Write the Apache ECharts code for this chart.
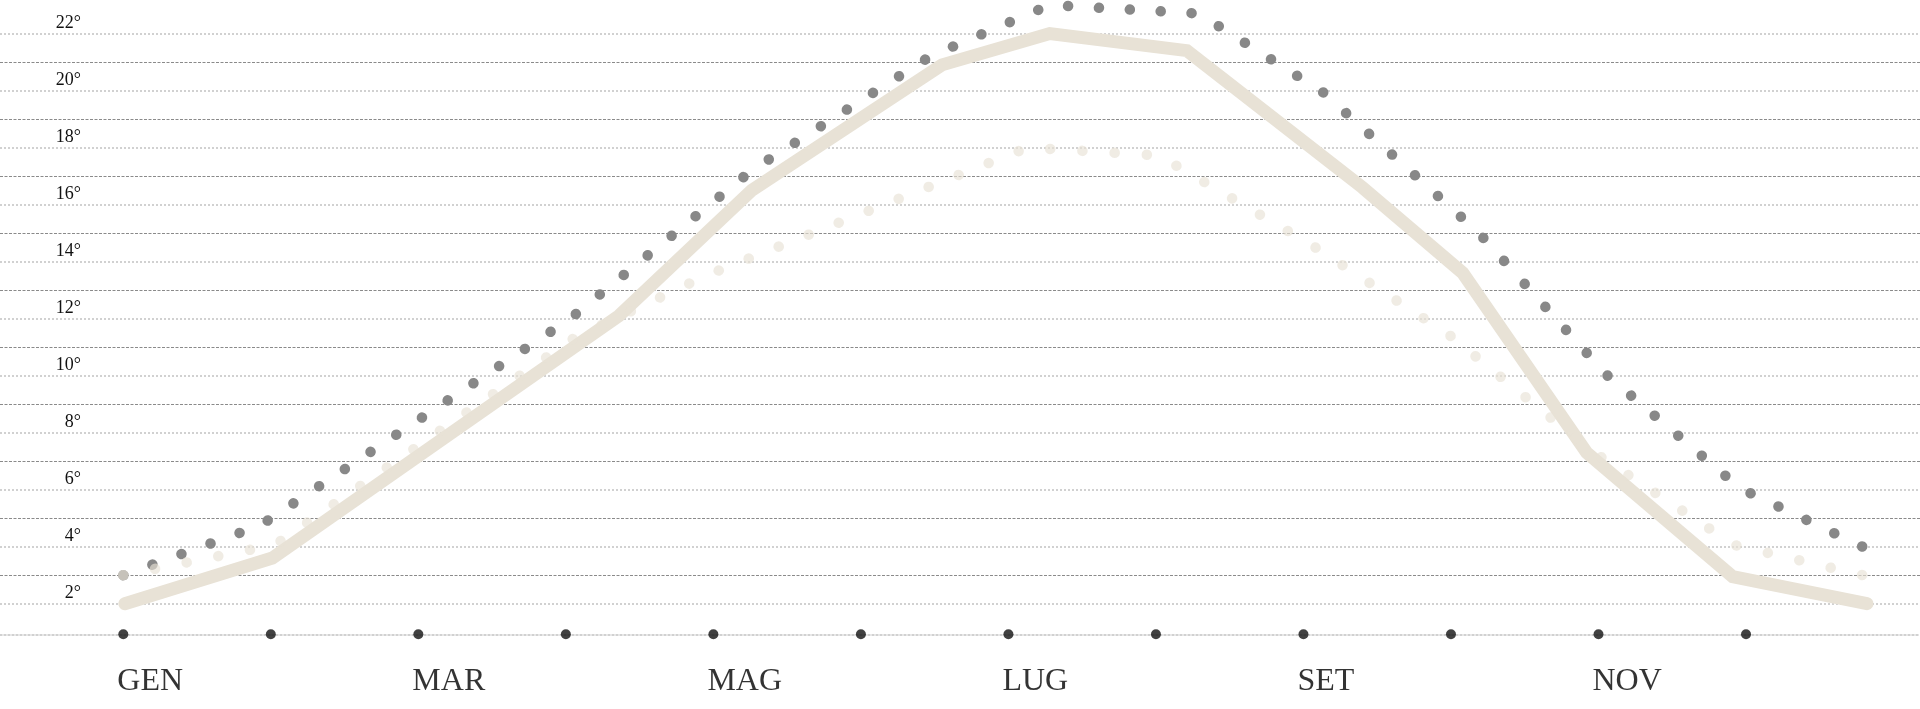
<!DOCTYPE html>
<html>
<head>
<meta charset="utf-8">
<style>
  html, body { margin: 0; padding: 0; background: #ffffff; }
  #chart { width: 1920px; height: 709px; }
</style>
<script src="https://cdn.jsdelivr.net/npm/echarts@6/dist/echarts.min.js"></script>
</head>
<body>
<div id="chart"></div>
<script>
// ---- data (month units on x: GEN = 0 ... DIC = 11; temperatures in °C) ----
const months = ['GEN', 'FEB', 'MAR', 'APR', 'MAG', 'GIU', 'LUG', 'AGO', 'SET', 'OTT', 'NOV', 'DIC'];
const labelledMonths = ['GEN', 'MAR', 'MAG', 'LUG', 'SET', 'NOV'];

// thick beige line
const meanX = [0.01, 1.01, 3.36, 4.26, 5.55, 6.28, 7.21, 8.40, 9.08, 9.92, 10.91, 11.82];
const meanY = [2.0, 3.6, 12.1, 16.5, 20.9, 22.0, 21.4, 16.6, 13.6, 7.3, 2.95, 2.0];

// dark grey dotted line
const maxX = [0, 0.93, 3.03, 4.26, 5.47, 6.28, 7.29, 8.13, 9.19, 10.05, 10.96, 11.79];
const maxY = [3.0, 4.75, 12.0, 17.2, 21.2, 23.0, 22.7, 19.95, 15.0, 10.05, 6.05, 4.0];

// light beige dotted line
const minX = [0, 1.03, 3.06, 3.96, 6.13, 7.02, 8.05, 8.99, 9.94, 10.92, 11.79];
const minY = [3.0, 4.07, 11.33, 13.53, 18.0, 17.72, 14.6, 11.42, 7.41, 4.06, 3.0];

// y tick values
const evenTicks = { min: 0, max: 22, step: 2 };
const oddTicks = { min: 1, max: 21, step: 2 };

// ---- layout ----
const W = 1920, H = 709;
const xLeftPx = 123.3, monthPx = 147.52;
const xMin = -xLeftPx / monthPx;
const xMax = (W - xLeftPx) / monthPx;
const yTopPx = 33.5, unitPx = 28.51;       // px of 22° line, px per degree
const py = v => yTopPx + (22 - v) * unitPx;
const axisPx = 634.3;

const SERIF = '"Liberation Serif", "DejaVu Serif", serif';
const beige = 'rgb(232,226,214)';
const DOT = 0.1;

const pairs = (xs, ys) => xs.map((x, i) => [x, ys[i]]);

const hiddenX = (gi) => ({
  type: 'value', gridIndex: gi, min: xMin, max: xMax,
  show: false, splitLine: { show: false }
});

const chart = echarts.init(document.getElementById('chart'), null, { renderer: 'canvas' });

function dotted(color, opacity, gap) {
  return { color: color, opacity: opacity, width: 10.5, cap: 'round', join: 'round', type: [DOT, gap] };
}

const option = {
  animation: false,
  backgroundColor: '#ffffff',
  grid: [
    { left: 0, right: 0, top: yTopPx, height: py(evenTicks.min) - yTopPx },
    { left: 0, right: 0, top: py(oddTicks.max), height: py(oddTicks.min) - py(oddTicks.max) },
    { left: 0, right: 0, top: axisPx - 40, height: 40 }
  ],
  xAxis: [
    hiddenX(0),
    hiddenX(1),
    {
      type: 'value', gridIndex: 2, min: xMin, max: xMax,
      axisLine: { show: true, lineStyle: { color: '#c2c2c2', width: 1.5, type: [2, 2] } },
      axisTick: { show: false }, axisLabel: { show: false }, splitLine: { show: false }
    }
  ],
  yAxis: [
    {
      type: 'value', gridIndex: 0, min: evenTicks.min, max: evenTicks.max, interval: evenTicks.step,
      axisLine: { show: false }, axisTick: { show: false },
      splitLine: { show: true, showMinLine: false, showMaxLine: true,
                   lineStyle: { color: '#c2c2c2', width: 1.5, type: [2, 2] } },
      axisLabel: {
        inside: true, margin: 81, align: 'right', verticalAlign: 'bottom',
        padding: [0, 0, 1, 0],
        fontFamily: SERIF, fontSize: 18, color: '#111',
        showMinLabel: false,
        formatter: v => v + '°'
      }
    },
    {
      type: 'value', gridIndex: 1, min: oddTicks.min, max: oddTicks.max, interval: oddTicks.step,
      axisLine: { show: false }, axisTick: { show: false }, axisLabel: { show: false },
      splitLine: { show: true, showMinLine: false, showMaxLine: true,
                   lineStyle: { color: '#8a8a8a', width: 1, type: [3, 1.5] } }
    },
    {
      type: 'value', gridIndex: 2, min: 0, max: 1, show: false, splitLine: { show: false }
    }
  ],
  series: [
    {
      type: 'line', xAxisIndex: 0, yAxisIndex: 0, data: pairs(meanX, meanY),
      showSymbol: false, clip: false, silent: true, z: 2,
      lineStyle: { color: beige, width: 13, cap: 'round', join: 'miter' }
    },
    {
      type: 'line', xAxisIndex: 0, yAxisIndex: 0, data: pairs(maxX, maxY),
      showSymbol: false, clip: false, silent: true, z: 3,
      lineStyle: dotted('#888888', 1, 31)
    },
    {
      type: 'line', xAxisIndex: 0, yAxisIndex: 0, data: pairs(minX, minY),
      showSymbol: false, clip: false, silent: true, z: 4,
      lineStyle: dotted(beige, 0.65, 32.5)
    },
    {
      type: 'scatter', xAxisIndex: 2, yAxisIndex: 2, clip: false, silent: true, z: 5,
      symbol: 'circle', symbolSize: 10,
      itemStyle: { color: '#111111' },
      data: months.map((m, i) => ({
        value: [i, 0],
        name: m,
        label: { show: labelledMonths.includes(m) }
      })),
      label: {
        position: [-1, 36],
        formatter: p => p.name,
        fontFamily: SERIF, fontSize: 32, color: '#000000'
      }
    }
  ]
};
chart.setOption(option);

// fit dot spacing so that a dot falls on both ends of each dotted path
function pathLength(xs, ys) {
  let L = 0, prev = null;
  xs.forEach((x, i) => {
    const p = chart.convertToPixel({ xAxisIndex: 0, yAxisIndex: 0 }, [x, ys[i]]);
    if (prev) L += Math.hypot(p[0] - prev[0], p[1] - prev[1]);
    prev = p;
  });
  return L;
}
function fitGap(xs, ys, target) {
  const L = pathLength(xs, ys);
  const n = Math.max(1, Math.round(L / target));
  return (L - 0.5) / n - DOT;
}
chart.setOption({
  series: [
    {},
    { lineStyle: dotted('#888888', 1, fitGap(maxX, maxY, 31)) },
    { lineStyle: dotted(beige, 0.65, fitGap(minX, minY, 32.5)) },
    {}
  ]
});
</script>
</body>
</html>
